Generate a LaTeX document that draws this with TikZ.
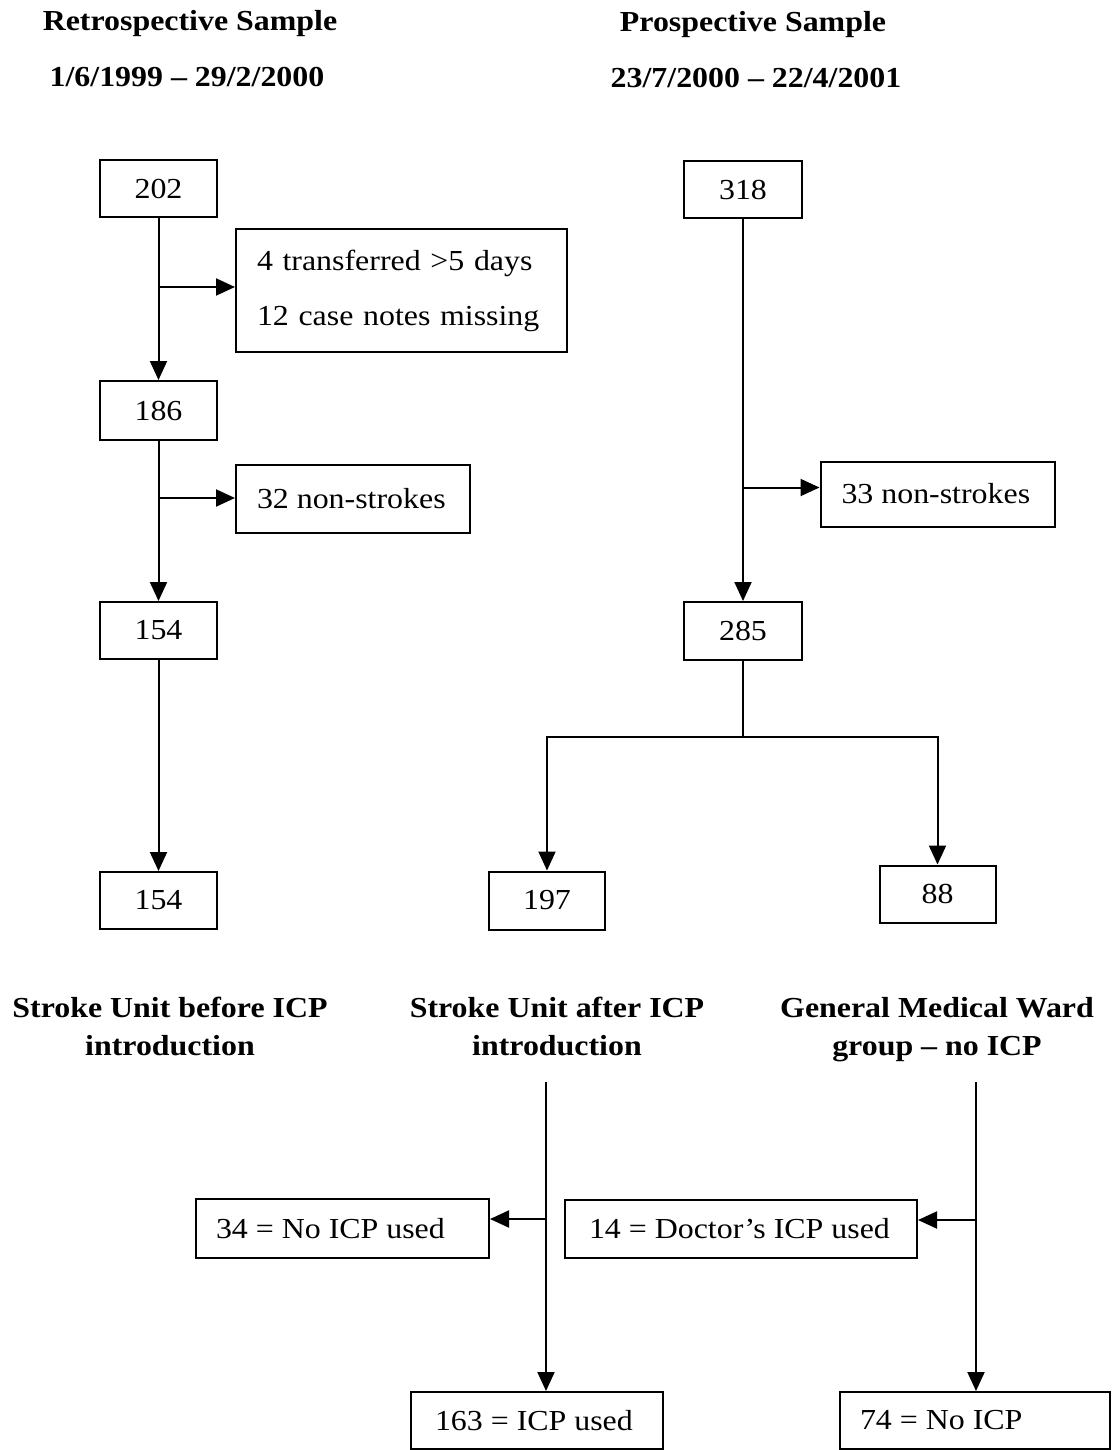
\documentclass[tikz,border=0pt]{standalone}
\usepackage{fontspec}
\setmainfont{Liberation Serif}[FakeStretch=1.1]
\usetikzlibrary{arrows.meta}
\tikzset{
  x=1pt, y=-1pt,
  ln/.style={line width=2pt},
  arr/.style={line width=2pt, -{Triangle[length=19pt,width=17pt]}},
  numbox/.style={draw, line width=2pt, minimum width=117pt, minimum height=57pt, inner sep=0pt, font=\fontsize{29}{34}\selectfont},
  txtbox/.style={draw, line width=2pt, inner xsep=21pt, inner ysep=0pt, align=left, font=\fontsize{29}{34}\selectfont},
  headtxt/.style={inner sep=0pt, align=center, font=\fontsize{29}{38}\selectfont\bfseries},
}
\begin{document}
\begin{tikzpicture}
\useasboundingbox (0,0) rectangle (1112,1450);

% headers
\node[headtxt] (hretro) at (190,24) {Retrospective Sample};
\node[headtxt] (dretro) at (187,77) {1/6/1999 -- 29/2/2000};
\node[headtxt] (hpro) at (753,25) {Prospective Sample};
\node[headtxt] (dpro) at (756,78) {23/7/2000 -- 22/4/2001};

% left column
\node[numbox] (n202) at (158.5,188.5) {202};
\node[txtbox, text width=289pt, minimum height=123pt, font=\fontsize{29}{55}\selectfont] (ex1) at (401.5,290.5) {4 transferred >5 days\\12 case notes missing};
\node[numbox, minimum height=59pt] (n186) at (158.5,410.5) {186};
\node[txtbox, minimum height=68pt] (ex2) at (353,499) {\makebox[192pt][l]{32 non-strokes}};
\node[numbox] (n154a) at (158.5,630.5) {154};
\node[numbox] (n154b) at (158.5,900.5) {154};

\coordinate (b1) at (158.5,287);
\coordinate (b2) at (158.5,498);
\draw[arr] (n202) -- (n186);
\draw[arr] (b1) -- (b1 -| ex1.west);
\draw[arr] (n186) -- (n154a);
\draw[arr] (b2) -- (b2 -| ex2.west);
\draw[arr] (n154a) -- (n154b);

% right column
\node[numbox, minimum width=118pt] (n318) at (743,189.5) {318};
\node[txtbox, minimum height=65pt] (ex3) at (937.5,494) {\makebox[192pt][l]{33 non-strokes}};
\node[numbox, minimum width=118pt, minimum height=58pt] (n285) at (743,631) {285};
\node[numbox, minimum width=116pt, minimum height=58pt] (n197) at (547,900.5) {197};
\node[numbox, minimum width=116pt] (n88) at (937.5,894) {88};

\coordinate (b3) at (743,487.5);
\draw[arr] (n318) -- (n285);
\draw[arr] (b3) -- (b3 -| ex3.west);
\coordinate (sp) at (743,737);
\draw[ln] (n285.south) -- (sp);
\draw[arr] (sp) -| (n197.north);
\draw[arr] (sp) -| (n88.north);

% group titles
\node[headtxt] (g1) at (170,1026) {Stroke Unit before ICP\\introduction};
\node[headtxt] (g2) at (557,1026) {Stroke Unit after ICP\\introduction};
\node[headtxt] (g3) at (937,1029.5) {General Medical Ward\\group -- no ICP};

% bottom section
\node[txtbox, inner xsep=20pt, minimum height=59pt] (n34) at (342.5,1228.5) {\makebox[253pt][l]{34 = No ICP used}};
\node[txtbox, inner xsep=24pt, minimum height=58pt] (n14) at (741,1229) {\makebox[304pt][l]{14 = Doctor’s ICP used}};
\node[txtbox, inner xsep=24pt, minimum height=57pt] (n163) at (537,1420.5) {\makebox[204pt][l]{163 = ICP used}};
\node[txtbox, inner xsep=20pt, minimum height=57pt] (n74) at (975,1420.5) {\makebox[230pt][l]{74 = No ICP}};

\coordinate (t1) at (546,1082);
\coordinate (t2) at (976,1082);
\coordinate (b4) at (546,1219);
\coordinate (b5) at (976,1220);
\draw[arr] (t1) -- (t1 |- n163.north);
\draw[arr] (b4) -- (b4 -| n34.east);
\draw[arr] (t2) -- (t2 |- n74.north);
\draw[arr] (b5) -- (b5 -| n14.east);
\end{tikzpicture}
\end{document}
